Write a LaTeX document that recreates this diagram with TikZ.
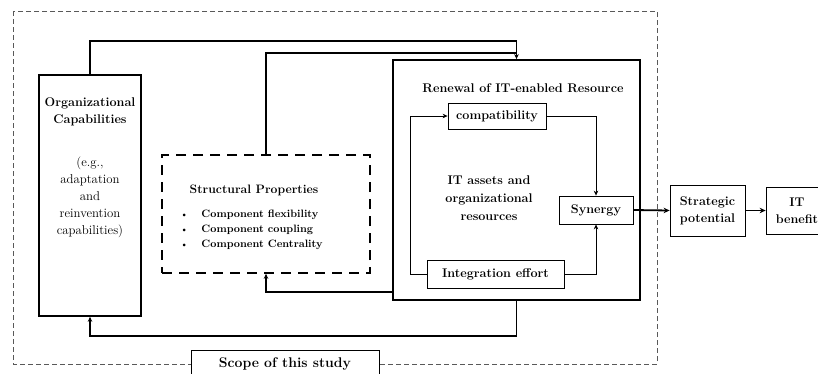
\documentclass[tikz,border=0pt]{standalone}
\usetikzlibrary{arrows.meta,calc}
\begin{document}
\begin{tikzpicture}[x=1pt,y=-1pt,
  txt/.style={font=\fontsize{12.6}{17}\selectfont\bfseries, align=center, inner sep=0pt},
  rtxt/.style={font=\fontsize{12.8}{17}\selectfont, align=center, inner sep=0pt},
  box/.style={draw, line width=0.8pt, inner sep=0pt, font=\fontsize{12.6}{17}\selectfont\bfseries, align=center},
  bigbox/.style={draw, line width=1.6pt, inner sep=0pt},
  thickln/.style={line width=1.4pt},
  thinln/.style={line width=0.7pt},
  tip/.style={-{Stealth[length=5pt,width=4.5pt]}},
]
\useasboundingbox (0,0) rectangle (818,373);
% outer scope box
\draw[gray!70!black, line width=0.7pt, dash pattern=on 5pt off 3pt] (13,11) rectangle (657,364);
\node[box, fill=white, minimum width=188pt, minimum height=30pt, anchor=north west] (scope) at (191,350) {};
\node[txt, font=\fontsize{14}{16}\selectfont\bfseries] (scopet) at (285,364) {Scope of this study};

% organizational capabilities
\node[bigbox, minimum width=102pt, minimum height=241pt] (org) at (90,195.5) {};
\node[txt] (orgt) at (90,111.5) {Organizational\\Capabilities};
\node[rtxt] (orge) at (90,197.5) {(e.g.,\\adaptation\\and\\reinvention\\capabilities)};

% structural properties
\node[draw, line width=1.6pt, dash pattern=on 10pt off 7pt, minimum width=208pt, minimum height=118pt, inner sep=0pt] (struct) at (266,214) {};
\node[txt, font=\fontsize{12.2}{17}\selectfont\bfseries] (structt) at (254,190) {Structural Properties};
\node[txt, anchor=west, align=left, font=\fontsize{10.7}{15}\selectfont\bfseries] (structl) at (180,229.5)
  {{\small\textbullet}\hspace{13pt}Component flexibility\\{\small\textbullet}\hspace{13pt}Component coupling\\{\small\textbullet}\hspace{13pt}Component Centrality};

% renewal box
\node[bigbox, line width=1.8pt, minimum width=247pt, minimum height=240pt] (renew) at (516.5,180) {};
\node[txt] (renewt) at (523,88) {Renewal of IT-enabled Resource};
\node[box, minimum width=98pt, minimum height=26pt] (compat) at (497,116) {compatibility};
\node[box, minimum width=137pt, minimum height=28pt] (integ) at (495.5,274) {Integration effort};
\node[box, minimum width=74pt, minimum height=28pt] (syn) at (596,210) {Synergy};
\node[txt, font=\fontsize{12.6}{18}\selectfont\bfseries] (assets) at (489,198) {IT assets and\\organizational\\resources};

% outside boxes
\node[box, minimum width=75pt, minimum height=51pt] (strat) at (707.5,210.5) {Strategic\\potential};
\node[box, minimum width=62pt, minimum height=47pt] (itb) at (797,210.5) {IT\\benefit};

% connectors
\coordinate (top1) at (516.5,41);
\coordinate (top2) at (516.5,53);
\coordinate (b2) at (393,292);
\draw[thickln, tip] (org.north) |- (top1) -- (renew.north);
\draw[thickln] (struct.north) |- (top2);
\draw[thickln, tip] (renew.south) -- ++(0,35) -| (org.south);
\draw[thickln, tip] (b2) -| (struct.south);
\draw[thinln, tip] (integ.west) -- ++(-16,0) |- (compat.west);
\draw[thinln, tip] (compat.east) -| (syn.north);
\draw[thinln, tip] (integ.east) -| (syn.south);
\draw[line width=1.8pt, -{Stealth[length=6pt,width=5.5pt]}] (syn.east) -- (strat.west);
\draw[line width=1.8pt, -{Stealth[length=6pt,width=5.5pt]}] (strat.east) -- (itb.west);
\end{tikzpicture}
\end{document}
